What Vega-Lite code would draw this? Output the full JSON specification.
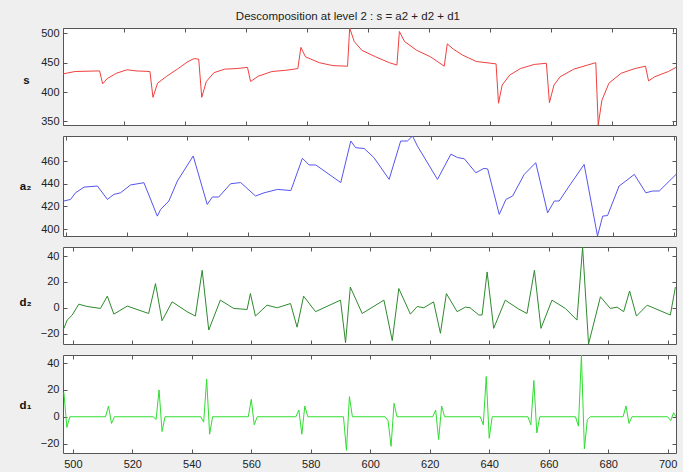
{
  "$schema": "https://vega.github.io/schema/vega-lite/v6.json",
  "background": "#efefef",
  "padding": {"left": 18, "top": 11, "right": 5, "bottom": 5},
  "title": {"text": "Descomposition at level 2 : s = a2 + d2 + d1", "anchor": "middle", "font": "Liberation Sans", "fontSize": 11.5, "fontWeight": "normal", "color": "#222222", "offset": 4},
  "config": {
    "view": {"stroke": "#555555", "strokeWidth": 1, "fill": "white"},
    "axis": {"domain": false, "grid": false, "tickSize": -4, "tickColor": "#555555", "tickWidth": 1, "labelFont": "Liberation Sans", "labelFontSize": 11, "labelColor": "#222222", "labelPadding": 8, "titleFont": "Liberation Sans", "titleFontSize": 11.5, "titleFontWeight": "bold", "titleColor": "#111111"}
  },
  "datasets": {
    "s": [
      {"x": 500, "v": 431}, {"x": 504, "v": 435}, {"x": 512, "v": 436}, {"x": 513, "v": 414}, {"x": 514.5, "v": 423}, {"x": 517.5, "v": 432}, {"x": 521, "v": 438}, {"x": 524, "v": 436}, {"x": 528.5, "v": 435}, {"x": 529.5, "v": 391}, {"x": 531, "v": 415}, {"x": 534, "v": 427}, {"x": 537.5, "v": 439}, {"x": 541, "v": 452}, {"x": 543, "v": 457}, {"x": 544.5, "v": 456}, {"x": 545.5, "v": 391}, {"x": 547, "v": 418}, {"x": 549.5, "v": 433}, {"x": 553, "v": 439}, {"x": 557, "v": 440}, {"x": 560.5, "v": 442}, {"x": 561.5, "v": 418}, {"x": 564, "v": 427}, {"x": 568.5, "v": 435}, {"x": 573, "v": 437}, {"x": 577, "v": 440}, {"x": 578, "v": 476}, {"x": 579.5, "v": 460}, {"x": 584, "v": 450}, {"x": 588.5, "v": 445}, {"x": 593.3, "v": 444}, {"x": 594, "v": 509}, {"x": 595.5, "v": 486}, {"x": 598, "v": 471}, {"x": 602.5, "v": 460}, {"x": 607, "v": 450}, {"x": 609.5, "v": 446}, {"x": 610.3, "v": 503}, {"x": 612, "v": 486}, {"x": 616, "v": 471}, {"x": 620.5, "v": 460}, {"x": 625, "v": 444}, {"x": 626, "v": 482}, {"x": 628, "v": 473}, {"x": 631, "v": 463}, {"x": 635.5, "v": 452}, {"x": 642, "v": 448}, {"x": 642.8, "v": 381}, {"x": 644, "v": 412}, {"x": 646.5, "v": 429}, {"x": 650, "v": 440}, {"x": 654.5, "v": 447}, {"x": 658.5, "v": 449}, {"x": 659.5, "v": 382}, {"x": 661, "v": 412}, {"x": 663, "v": 426}, {"x": 667.5, "v": 439}, {"x": 672, "v": 446}, {"x": 674.7, "v": 450}, {"x": 675.5, "v": 344}, {"x": 676.7, "v": 386}, {"x": 679, "v": 415}, {"x": 683, "v": 432}, {"x": 687.5, "v": 440}, {"x": 691, "v": 444}, {"x": 692, "v": 419}, {"x": 694, "v": 426}, {"x": 698.5, "v": 435}, {"x": 701, "v": 442}
    ],
    "a2": [
      {"x": 499.4, "v": 424.8}, {"x": 501.6, "v": 426.2}, {"x": 503.2, "v": 432}, {"x": 506, "v": 437}, {"x": 510.4, "v": 438}, {"x": 513.7, "v": 426.2}, {"x": 515.8, "v": 430.6}, {"x": 518, "v": 432}, {"x": 521.3, "v": 438.9}, {"x": 525.7, "v": 440.9}, {"x": 530.1, "v": 411.5}, {"x": 531.2, "v": 417.4}, {"x": 533.9, "v": 424.8}, {"x": 536.7, "v": 442.4}, {"x": 541.9, "v": 464.4}, {"x": 546.5, "v": 421.8}, {"x": 548.2, "v": 428.3}, {"x": 550.3, "v": 428.3}, {"x": 554.2, "v": 440}, {"x": 557.5, "v": 441}, {"x": 562.4, "v": 429.2}, {"x": 565.2, "v": 432}, {"x": 569.6, "v": 435}, {"x": 574, "v": 434}, {"x": 577.8, "v": 462.4}, {"x": 580, "v": 456.5}, {"x": 582.2, "v": 456.5}, {"x": 590.4, "v": 441}, {"x": 593.7, "v": 477.6}, {"x": 595.3, "v": 471.7}, {"x": 598.1, "v": 471}, {"x": 601.3, "v": 463}, {"x": 606.3, "v": 443.8}, {"x": 610.1, "v": 477.6}, {"x": 612.3, "v": 477.6}, {"x": 614, "v": 482}, {"x": 615.6, "v": 473.2}, {"x": 622.2, "v": 443.8}, {"x": 626.6, "v": 466}, {"x": 628.8, "v": 463}, {"x": 631, "v": 462}, {"x": 634.8, "v": 449.7}, {"x": 637.5, "v": 453.5}, {"x": 638.7, "v": 453}, {"x": 642.5, "v": 413}, {"x": 644.7, "v": 426.2}, {"x": 646.9, "v": 429.2}, {"x": 650.7, "v": 448.2}, {"x": 654.5, "v": 458.5}, {"x": 658.4, "v": 414.4}, {"x": 660.6, "v": 424.8}, {"x": 662.2, "v": 424.8}, {"x": 665.5, "v": 438}, {"x": 670.4, "v": 457}, {"x": 674.8, "v": 394}, {"x": 676.5, "v": 411.5}, {"x": 678.1, "v": 412}, {"x": 681.9, "v": 438}, {"x": 684.1, "v": 442.4}, {"x": 686.9, "v": 448.2}, {"x": 690.7, "v": 432}, {"x": 692.9, "v": 433.6}, {"x": 695.1, "v": 433.6}, {"x": 700.6, "v": 448.2}
    ],
    "d2": [
      {"x": 497, "v": -16}, {"x": 498.1, "v": -9.5}, {"x": 499.8, "v": -5.6}, {"x": 502, "v": 2.8}, {"x": 504.8, "v": 1}, {"x": 509.3, "v": -0.5}, {"x": 511.6, "v": 9}, {"x": 513.8, "v": -4.9}, {"x": 518.3, "v": 1.3}, {"x": 525.5, "v": -4.4}, {"x": 527.8, "v": 18.7}, {"x": 530, "v": -10}, {"x": 533.4, "v": 4.6}, {"x": 538.4, "v": -3}, {"x": 541.2, "v": -6.4}, {"x": 543.5, "v": 29}, {"x": 545.7, "v": -17.2}, {"x": 549.6, "v": 5.9}, {"x": 554.1, "v": -0.5}, {"x": 558.6, "v": -1.3}, {"x": 559.7, "v": 11}, {"x": 561.4, "v": -6.4}, {"x": 565.3, "v": 2}, {"x": 568.7, "v": 0}, {"x": 573.2, "v": 3.3}, {"x": 575.4, "v": -15}, {"x": 577.6, "v": 9}, {"x": 581.6, "v": -3}, {"x": 590, "v": 5.9}, {"x": 591.7, "v": -27}, {"x": 593.3, "v": 16}, {"x": 597.3, "v": -4.4}, {"x": 604.6, "v": 5.9}, {"x": 607.4, "v": -25.4}, {"x": 609.6, "v": 14.9}, {"x": 613.5, "v": -4.9}, {"x": 615.8, "v": 1}, {"x": 618, "v": 0}, {"x": 621.3, "v": 4.6}, {"x": 623.6, "v": -19.7}, {"x": 625.6, "v": 11}, {"x": 629.2, "v": -3}, {"x": 632, "v": 0.5}, {"x": 633.6, "v": 0}, {"x": 636.5, "v": -5.6}, {"x": 637.6, "v": -5.6}, {"x": 639.3, "v": 27.7}, {"x": 641.5, "v": -15.9}, {"x": 645.4, "v": 5.9}, {"x": 649.9, "v": -1}, {"x": 652.7, "v": -4.4}, {"x": 655.2, "v": 29}, {"x": 657.4, "v": -15.9}, {"x": 661.1, "v": 5.9}, {"x": 665.6, "v": -0.5}, {"x": 669.5, "v": -9.5}, {"x": 671.4, "v": 47}, {"x": 673.4, "v": -28}, {"x": 677.4, "v": 8.5}, {"x": 680.7, "v": -0.5}, {"x": 683, "v": 0.5}, {"x": 685.2, "v": -3}, {"x": 687.2, "v": 13}, {"x": 689.5, "v": -6.4}, {"x": 693.1, "v": 2}, {"x": 700.9, "v": -5.6}, {"x": 702.6, "v": 16}
    ],
    "d1": [
      {"x": 497, "v": 18}, {"x": 498, "v": -8}, {"x": 499, "v": 0}, {"x": 511, "v": 0}, {"x": 512, "v": 8}, {"x": 513, "v": -5}, {"x": 514, "v": 0}, {"x": 527, "v": 0}, {"x": 528, "v": -2}, {"x": 529, "v": 20}, {"x": 530, "v": -11}, {"x": 531, "v": 0}, {"x": 543, "v": 0}, {"x": 544, "v": -4}, {"x": 545, "v": 28}, {"x": 546, "v": -13}, {"x": 547, "v": 0}, {"x": 559, "v": 0}, {"x": 560, "v": 13}, {"x": 561, "v": -6}, {"x": 562, "v": 0}, {"x": 575, "v": 0}, {"x": 576, "v": 5}, {"x": 577, "v": -13}, {"x": 578, "v": 8}, {"x": 579, "v": 0}, {"x": 591, "v": 0}, {"x": 592, "v": -25}, {"x": 593, "v": 15}, {"x": 594, "v": 0}, {"x": 605, "v": 0}, {"x": 606, "v": -3}, {"x": 607, "v": -22}, {"x": 608, "v": 10}, {"x": 609, "v": 0}, {"x": 621, "v": 0}, {"x": 622, "v": 5}, {"x": 623, "v": -17}, {"x": 624, "v": 8}, {"x": 625, "v": 0}, {"x": 637, "v": 0}, {"x": 638, "v": -6}, {"x": 639, "v": 30}, {"x": 640, "v": -16}, {"x": 641, "v": 0}, {"x": 653, "v": 0}, {"x": 654, "v": -6}, {"x": 655, "v": 27}, {"x": 656, "v": -12}, {"x": 657, "v": 0}, {"x": 669, "v": 0}, {"x": 670, "v": -7}, {"x": 671, "v": 46}, {"x": 672, "v": -24}, {"x": 673, "v": -2}, {"x": 674, "v": 0}, {"x": 685, "v": 0}, {"x": 686, "v": 8}, {"x": 687, "v": -5}, {"x": 688, "v": 0}, {"x": 700, "v": 0}, {"x": 701, "v": -3}, {"x": 702, "v": 3}, {"x": 702.8, "v": 0}
    ]
  },
  "bounds": "flush",
  "spacing": 11,
  "vconcat": [
    {
      "width": 613, "height": 97,
      "data": {"name": "s"},
      "layer": [
        {"mark": {"type": "line", "color": "#f04040", "strokeWidth": 1, "clip": true},
         "encoding": {
           "x": {"field": "x", "type": "quantitative", "scale": {"domain": [500, 701], "nice": false, "zero": false}, "axis": {"orient": "bottom", "values": [500, 520, 540, 560, 580, 600, 620, 640, 660, 680, 700], "labels": false, "title": null}},
           "y": {"field": "v", "type": "quantitative", "scale": {"domain": [344, 509], "nice": false, "zero": false}, "axis": {"orient": "left", "values": [350, 400, 450, 500], "title": "s", "titleAngle": 0, "titleX": -37, "titleY": 52, "titleAlign": "center", "titleBaseline": "middle"}}
         }},
        {"mark": {"type": "line", "strokeOpacity": 0},
         "encoding": {
           "x": {"field": "x", "type": "quantitative", "scale": {"domain": [500, 701], "nice": false, "zero": false}, "axis": {"orient": "top", "values": [500, 520, 540, 560, 580, 600, 620, 640, 660, 680, 700], "labels": false, "title": null}},
           "y": {"field": "v", "type": "quantitative", "scale": {"domain": [344, 509], "nice": false, "zero": false}, "axis": {"orient": "right", "values": [350, 400, 450, 500], "labels": false, "title": null}}
         }}
      ],
      "resolve": {"axis": {"x": "independent", "y": "independent"}}
    },
    {
      "width": 613, "height": 100,
      "data": {"name": "a2"},
      "layer": [
        {"mark": {"type": "line", "color": "#5555ee", "strokeWidth": 1, "clip": true},
         "encoding": {
           "x": {"field": "x", "type": "quantitative", "scale": {"domain": [499.1, 700.6], "nice": false, "zero": false}, "axis": {"orient": "bottom", "values": [500, 520, 540, 560, 580, 600, 620, 640, 660, 680, 700], "labels": false, "title": null}},
           "y": {"field": "v", "type": "quantitative", "scale": {"domain": [394, 482], "nice": false, "zero": false}, "axis": {"orient": "left", "values": [400, 420, 440, 460], "title": "a₂", "titleAngle": 0, "titleX": -38, "titleY": 50, "titleAlign": "center", "titleBaseline": "middle"}}
         }},
        {"mark": {"type": "line", "strokeOpacity": 0},
         "encoding": {
           "x": {"field": "x", "type": "quantitative", "scale": {"domain": [499.1, 700.6], "nice": false, "zero": false}, "axis": {"orient": "top", "values": [500, 520, 540, 560, 580, 600, 620, 640, 660, 680, 700], "labels": false, "title": null}},
           "y": {"field": "v", "type": "quantitative", "scale": {"domain": [394, 482], "nice": false, "zero": false}, "axis": {"orient": "right", "values": [400, 420, 440, 460], "labels": false, "title": null}}
         }}
      ],
      "resolve": {"axis": {"x": "independent", "y": "independent"}}
    },
    {
      "width": 613, "height": 97,
      "data": {"name": "d2"},
      "layer": [
        {"mark": {"type": "line", "color": "#2e8a2e", "strokeWidth": 1, "clip": true},
         "encoding": {
           "x": {"field": "x", "type": "quantitative", "scale": {"domain": [496.7, 702.8], "nice": false, "zero": false}, "axis": {"orient": "bottom", "values": [500, 520, 540, 560, 580, 600, 620, 640, 660, 680, 700], "labels": false, "title": null}},
           "y": {"field": "v", "type": "quantitative", "scale": {"domain": [-28, 47], "nice": false, "zero": false}, "axis": {"orient": "left", "values": [-20, 0, 20, 40], "title": "d₂", "titleAngle": 0, "titleX": -38, "titleY": 55, "titleAlign": "center", "titleBaseline": "middle"}}
         }},
        {"mark": {"type": "line", "strokeOpacity": 0},
         "encoding": {
           "x": {"field": "x", "type": "quantitative", "scale": {"domain": [496.7, 702.8], "nice": false, "zero": false}, "axis": {"orient": "top", "values": [500, 520, 540, 560, 580, 600, 620, 640, 660, 680, 700], "labels": false, "title": null}},
           "y": {"field": "v", "type": "quantitative", "scale": {"domain": [-28, 47], "nice": false, "zero": false}, "axis": {"orient": "right", "values": [-20, 0, 20, 40], "labels": false, "title": null}}
         }}
      ],
      "resolve": {"axis": {"x": "independent", "y": "independent"}}
    },
    {
      "width": 613, "height": 98,
      "data": {"name": "d1"},
      "layer": [
        {"mark": {"type": "line", "color": "#30dd30", "strokeWidth": 1, "clip": true},
         "encoding": {
           "x": {"field": "x", "type": "quantitative", "scale": {"domain": [496.7, 702.8], "nice": false, "zero": false}, "axis": {"orient": "bottom", "values": [500, 520, 540, 560, 580, 600, 620, 640, 660, 680, 700], "labelPadding": 9, "title": null}},
           "y": {"field": "v", "type": "quantitative", "scale": {"domain": [-27, 46], "nice": false, "zero": false}, "axis": {"orient": "left", "values": [-20, 0, 20, 40], "title": "d₁", "titleAngle": 0, "titleX": -38, "titleY": 50, "titleAlign": "center", "titleBaseline": "middle"}}
         }},
        {"mark": {"type": "line", "strokeOpacity": 0},
         "encoding": {
           "x": {"field": "x", "type": "quantitative", "scale": {"domain": [496.7, 702.8], "nice": false, "zero": false}, "axis": {"orient": "top", "values": [500, 520, 540, 560, 580, 600, 620, 640, 660, 680, 700], "labels": false, "title": null}},
           "y": {"field": "v", "type": "quantitative", "scale": {"domain": [-27, 46], "nice": false, "zero": false}, "axis": {"orient": "right", "values": [-20, 0, 20, 40], "labels": false, "title": null}}
         }}
      ],
      "resolve": {"axis": {"x": "independent", "y": "independent"}}
    }
  ]
}
